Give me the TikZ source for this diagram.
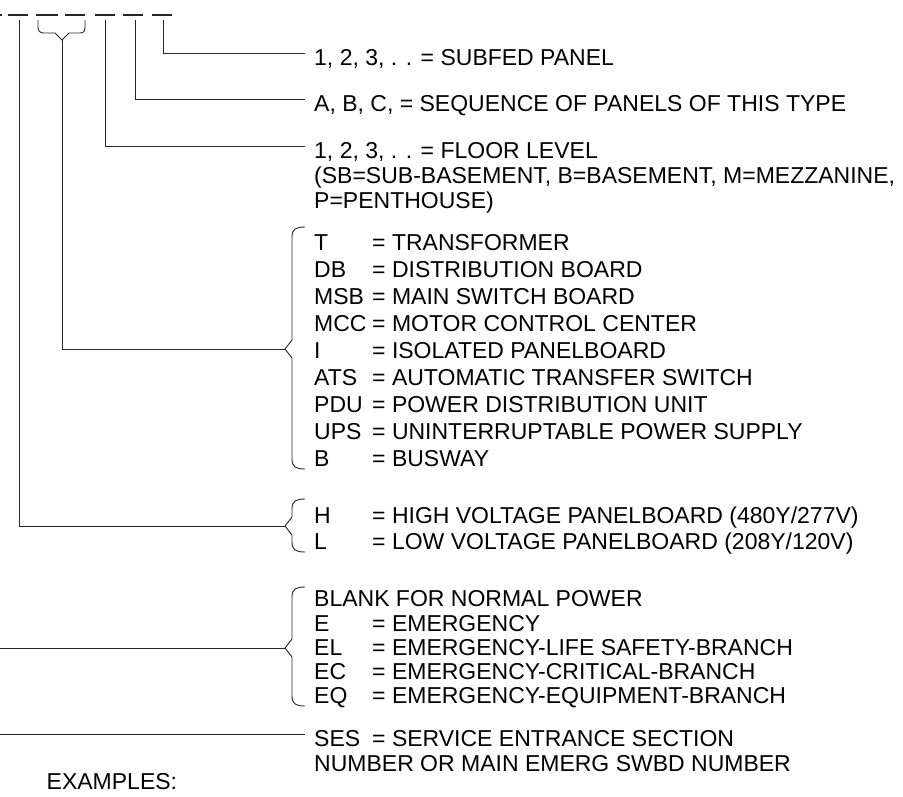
\documentclass[tikz,border=0pt]{standalone}
\usepackage{fontspec}
\setmainfont{Liberation Sans}
\newcommand\codeeq[2]{\makebox[58pt][l]{#1}= #2}
\newcommand\mybrace[3]{% top y, tip y, bottom y
  \draw[ln] (305,#1) .. controls (296,#1) and (292,#1+2) .. (292,#1+10)
    -- (292,#2-9) -- (285,#2) -- (292,#2+9) -- (292,#3-10)
    .. controls (292,#3-2) and (296,#3) .. (305,#3);
}
\begin{document}
\begin{tikzpicture}[x=1pt,y=-1pt,
  ln/.style={line width=0.9pt,black!85},
  dsh/.style={line width=2pt,black!85},
  txt/.style={anchor=base west,inner sep=0pt,font=\fontsize{23}{27}\selectfont}]
\useasboundingbox (0,0) rectangle (903,796);

% top dashes
\draw[dsh] (0,15) -- (1.5,15);
\foreach \a/\b in {8/28,36/58,65/85,95/115,123/143,152/172}
  \draw[dsh] (\a,15) -- (\b,15);

% start points below the dashes
\coordinate (d1) at (19,20);
\coordinate (d4) at (105,20);
\coordinate (d5) at (135,20);
\coordinate (d6) at (163,20);
% small brace under dashes 2 and 3
\coordinate (d23) at (62,40);
\draw[ln] (38,20) -- (38,27) .. controls (38,31) and (40,33) .. (44,33) -- (55,33) -- (d23)
  -- (69,33) -- (80,33) .. controls (84,33) and (85,31) .. (85,27) -- (85,20);

% texts
\node[txt] (sub) at (314,65.25) {1, 2, 3, . . = SUBFED PANEL};
\node[txt] (seq) at (314,111.25) {A, B, C, = SEQUENCE OF PANELS OF THIS TYPE};
\node[txt] (fl1) at (314,158.25) {1, 2, 3, . . = FLOOR LEVEL};
\node[txt] (fl2) at (314,183.25) {(SB=SUB-BASEMENT, B=BASEMENT, M=MEZZANINE,};
\node[txt] (fl3) at (314,208.25) {P=PENTHOUSE)};

\node[txt] (t1) at (314,250) {\codeeq{T}{TRANSFORMER}};
\node[txt] (t2) at (314,277) {\codeeq{DB}{DISTRIBUTION BOARD}};
\node[txt] (t3) at (314,304) {\codeeq{MSB}{MAIN SWITCH BOARD}};
\node[txt] (t4) at (314,331) {\codeeq{MCC}{MOTOR CONTROL CENTER}};
\node[txt] (t5) at (314,358) {\codeeq{I}{ISOLATED PANELBOARD}};
\node[txt] (t6) at (314,385) {\codeeq{ATS}{AUTOMATIC TRANSFER SWITCH}};
\node[txt] (t7) at (314,412) {\codeeq{PDU}{POWER DISTRIBUTION UNIT}};
\node[txt] (t8) at (314,439) {\codeeq{UPS}{UNINTERRUPTABLE POWER SUPPLY}};
\node[txt] (t9) at (314,466) {\codeeq{B}{BUSWAY}};

\node[txt] (h1) at (314,523) {\codeeq{H}{HIGH VOLTAGE PANELBOARD (480Y/277V)}};
\node[txt] (h2) at (314,549.5) {\codeeq{L}{LOW VOLTAGE PANELBOARD (208Y/120V)}};

\node[txt] (e0) at (314,606.7) {BLANK FOR NORMAL POWER};
\node[txt] (e1) at (314,631) {\codeeq{E}{EMERGENCY}};
\node[txt] (e2) at (314,655.3) {\codeeq{EL}{EMERGENCY-LIFE SAFETY-BRANCH}};
\node[txt] (e3) at (314,679.6) {\codeeq{EC}{EMERGENCY-CRITICAL-BRANCH}};
\node[txt] (e4) at (314,703.9) {\codeeq{EQ}{EMERGENCY-EQUIPMENT-BRANCH}};

\node[txt] (s1) at (314,746) {\codeeq{SES}{SERVICE ENTRANCE SECTION}};
\node[txt] (s2) at (314,771) {NUMBER OR MAIN EMERG SWBD NUMBER};

\node[txt] (ex) at (46.5,789) {EXAMPLES:};

% line ends
\coordinate (subE) at (305,53);
\coordinate (seqE) at (305,99);
\coordinate (flE) at (305,146);
\coordinate (tTip) at (285,349);
\coordinate (hTip) at (285,526);
\coordinate (eTip) at (285,648);
\coordinate (eL) at (0,648);
\coordinate (sE) at (305,734);
\coordinate (sL) at (0,734);

% braces
\mybrace{227}{349}{469}
\mybrace{499}{526}{552}
\mybrace{587}{648}{706}

% connectors
\draw[ln] (d6) |- (subE);
\draw[ln] (d5) |- (seqE);
\draw[ln] (d4) |- (flE);
\draw[ln] (d23) |- (tTip);
\draw[ln] (d1) |- (hTip);
\draw[ln] (eL) -- (eTip);
\draw[ln] (sL) -- (sE);
\end{tikzpicture}
\end{document}
